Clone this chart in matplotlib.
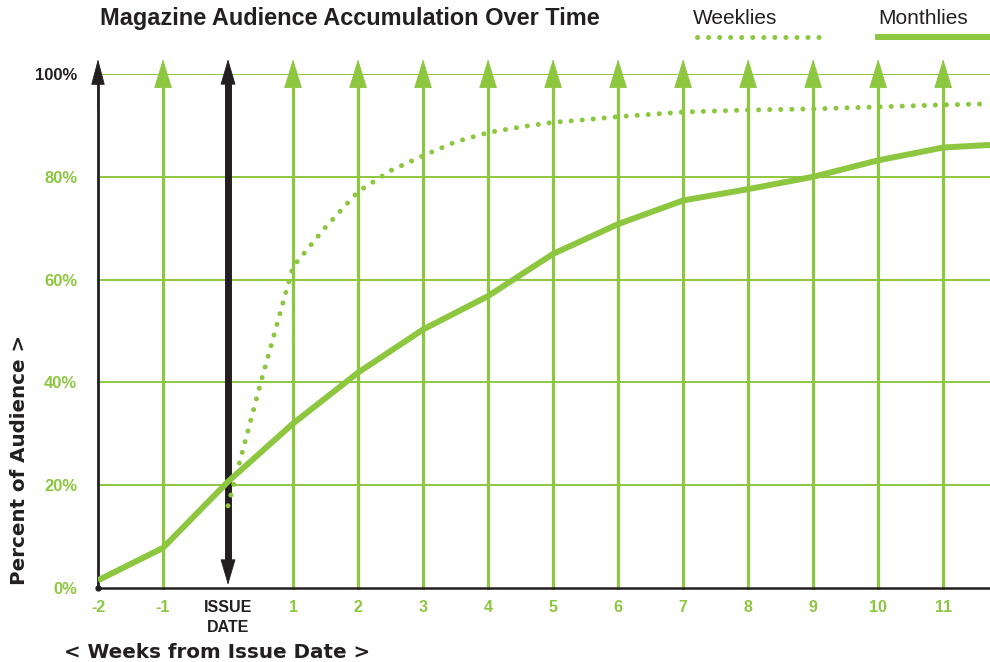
import matplotlib
matplotlib.use('Agg')
import matplotlib.pyplot as plt
from matplotlib.lines import Line2D

plt.rcParams['font.family'] = ['Liberation Sans', 'DejaVu Sans']

GREEN = '#8dc63f'
BLACK = '#231f20'

# data
weeks = [-2, -1, 0, 1, 2, 3, 4, 5, 6, 7, 8, 9, 10, 11]
week_labels = ['-2', '-1', 'ISSUE\nDATE', '1', '2', '3', '4', '5', '6', '7', '8', '9', '10', '11']
pct_ticks = [0, 20, 40, 60, 80, 100]
pct_labels = ['0%', '20%', '40%', '60%', '80%', '100%']

monthly_x = [-2, -1, 0, 1, 2, 3, 4, 5, 6, 7, 8, 9, 10, 11, 11.72]
monthly_y = [1.5, 7.8, 20.7, 32.0, 41.9, 50.3, 56.8, 65.0, 70.8, 75.4, 77.6, 80.0, 83.2, 85.7, 86.2]

weekly_x = [0, 0.5, 1, 1.5, 2, 2.5, 3, 3.5, 4, 4.5, 5, 5.5, 6, 7, 8, 9, 10, 11, 11.72]
weekly_y = [16.0, 39.8, 62.5, 70.2, 77.1, 81.2, 84.1, 86.8, 88.6, 89.7, 90.6, 91.1, 91.7,
            92.6, 93.0, 93.2, 93.6, 94.0, 94.2]

fig = plt.figure(figsize=(9.9, 6.62), dpi=100)
ax = fig.add_axes([98 / 990, 74 / 662, 1 - 98 / 990, 514 / 662])
ax.set_xlim(-2, 11.72)
ax.set_ylim(0, 100)
for s in ax.spines.values():
    s.set_visible(False)

# horizontal grid
for p in pct_ticks[1:]:
    ax.axhline(p, color=GREEN, lw=1.4, zorder=1)
ax.axhline(0, color=BLACK, lw=1.8, zorder=4, clip_on=False)

TIP = 102.9


def head(x, y_from, y_to, color, hl, hw):
    ax.annotate('', xy=(x, y_to), xytext=(x, y_from), annotation_clip=False,
                arrowprops=dict(arrowstyle=f'-|>,head_length={hl},head_width={hw}',
                                mutation_scale=10, lw=0.6, color=color,
                                shrinkA=0, shrinkB=0), zorder=3)


# vertical arrows at each week
for w in weeks:
    if w == -2:
        ax.plot([w, w], [0, 98], color=BLACK, lw=2.0, zorder=3, clip_on=False)
        head(w, 93, TIP, BLACK, 1.7, 0.45)
        ax.plot(w, 0, 'o', ms=3.5, color=BLACK, zorder=5, clip_on=False)
    elif w == 0:
        ax.plot([w, w], [5, 98], color=BLACK, lw=5.0, zorder=3, clip_on=False)
        head(w, 93, TIP, BLACK, 1.7, 0.5)
        head(w, 10, 0.6, BLACK, 1.7, 0.5)
    else:
        ax.plot([w, w], [0, 98], color=GREEN, lw=2.3, zorder=2, clip_on=False)
        head(w, 93, TIP, GREEN, 1.95, 0.6)

# series
ax.plot(monthly_x, monthly_y, color=GREEN, lw=4.3, solid_capstyle='butt', zorder=6)
ax.plot(weekly_x, weekly_y, color=GREEN, lw=3.6, linestyle=(0, (0.01, 2.2)),
        dash_capstyle='round', zorder=6)

# ticks
ax.set_xticks(weeks)
ax.set_xticklabels(week_labels)
ax.set_yticks(pct_ticks)
ax.set_yticklabels(pct_labels)
ax.tick_params(length=0)
ax.tick_params(axis='x', pad=9)
ax.tick_params(axis='y', pad=15)
for t, w in zip(ax.get_xticklabels(), weeks):
    t.set_fontweight('bold')
    t.set_fontsize(11.5)
    if w == 0:
        t.set_color(BLACK)
        t.set_linespacing(1.4)
    else:
        t.set_color(GREEN)
for t, p in zip(ax.get_yticklabels(), pct_ticks):
    t.set_fontweight('bold')
    t.set_fontsize(12)
    t.set_color(BLACK if p == 100 else GREEN)

# titles and axis labels
fig.text(100 / 990, 1 - 18 / 662, 'Magazine Audience Accumulation Over Time',
         fontsize=16.9, fontweight='bold', color=BLACK, va='center', ha='left')
fig.text(217 / 990, 1 - 653 / 662, '< Weeks from Issue Date >', fontsize=14.3,
         fontweight='bold', color=BLACK, ha='center', va='center',
         family=['DejaVu Sans'])
fig.text(20 / 990, 1 - 460 / 662, 'Percent of Audience >', fontsize=14.3,
         fontweight='bold', color=BLACK, ha='center', va='center', rotation=90,
         family=['DejaVu Sans'])

# legend
fig.text(693 / 990, 1 - 18 / 662, 'Weeklies', fontsize=15, color=BLACK,
         va='center', ha='left')
fig.text(878 / 990, 1 - 18 / 662, 'Monthlies', fontsize=15, color=BLACK,
         va='center', ha='left')
fig.add_artist(Line2D([697 / 990, 820 / 990], [1 - 37 / 662] * 2, color=GREEN, lw=3.6,
                      linestyle=(0, (0.01, 2.2)), dash_capstyle='round'))
fig.add_artist(Line2D([878 / 990, 1.0], [1 - 37 / 662] * 2, color=GREEN, lw=4.3))

fig.savefig('out.png', dpi=100)
